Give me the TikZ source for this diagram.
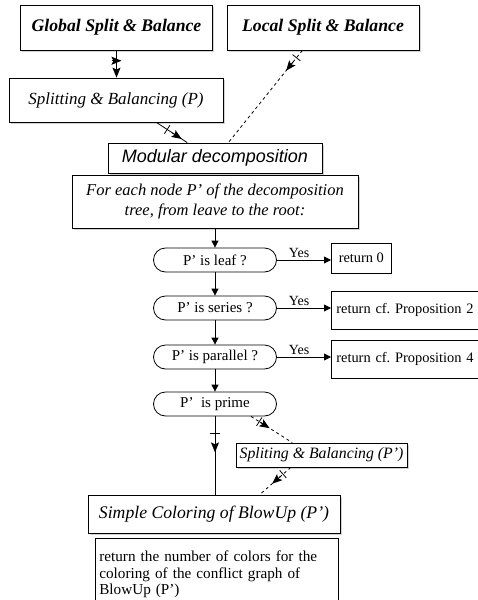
\documentclass[tikz,border=0pt]{standalone}
\usepackage{fontspec}
\setmainfont{Liberation Serif}
\setsansfont{Liberation Sans}
\usetikzlibrary{shapes.misc, arrows.meta, shadows, calc, decorations.markings}
\frenchspacing

\begin{document}
\begin{tikzpicture}[x=1pt, y=-1pt,
  box/.style={draw, line width=0.8pt, fill=white, inner sep=2pt, align=center,
    drop shadow={shadow xshift=1.5pt, shadow yshift=-1.5pt, opacity=0.35}},
  topbox/.style={box, minimum width=192pt, minimum height=45pt, font=\fontsize{17.7}{20}\selectfont\bfseries\itshape},
  plainbox/.style={draw, line width=0.7pt, fill=white, inner sep=5pt, font=\fontsize{14.4}{16}\selectfont},
  test/.style={draw, rounded rectangle, line width=0.8pt, minimum width=125pt, minimum height=24pt, inner sep=1pt, font=\fontsize{15}{17}\selectfont},
  flow/.style={-{Triangle[length=7pt, width=7pt]}, line width=0.8pt},
  link/.style={line width=0.8pt},
  barbend/.style={line width=1pt, -{Stealth[length=10pt, width=8pt, inset=2pt]}},
  ticked/.style={postaction={decorate, decoration={markings,
    mark=at position #1 with {\draw[solid, line width=0.8pt] (0pt,-5pt) -- (0pt,5pt);}}}},
  yes/.style={above, pos=0.41, inner sep=1.5pt, font=\fontsize{14}{16}\selectfont}
]
  \useasboundingbox (0,0) rectangle (478,600);

  % Entry points
  \node[topbox] (global) at (116.5, 27.5) {Global Split \& Balance};
  \node[topbox] (local) at (323, 27.5) {Local Split \& Balance};

  \node[box, minimum width=214pt, minimum height=44pt, font=\fontsize{17}{20}\selectfont\itshape] (splitP) at (116, 100) {Splitting \& Balancing (P)};

  \draw[link, barbend, ticked=0.38] (global.south) -- (global.south |- splitP.north);

  % Decomposition
  \node[box, minimum width=214pt, minimum height=30pt, font=\fontsize{18}{20}\selectfont\sffamily\itshape] (modular) at (215, 158) {Modular decomposition};
  \node[box, minimum width=286pt, minimum height=53pt, font=\fontsize{16.5}{19.5}\selectfont\itshape] (foreach) at (215, 201.5) {For each node P' of the decomposition\\tree, from leave to the root:};

  \draw[link, ticked=0.35] (splitP.-29.4) -- (modular.151);
  \coordinate (pm) at ($(splitP.-29.4)!0.82!(modular.151)$);
  \draw[barbend] ($(pm)!11pt!(splitP.-29.4)$) -- (pm);

  \draw[link, dashed, ticked=0.08] (local.228.4) -- (modular.49);
  \coordinate (lm) at ($(local.228.4)!0.22!(modular.49)$);
  \draw[barbend] ($(lm)!11pt!(local.228.4)$) -- (lm);

  % Tests on P'
  \node[test] (leaf) at (215, 260) {P’ is leaf ?};
  \node[test] (series) at (215, 308) {P’ is series ?};
  \node[test] (parallel) at (215, 357) {P’ is parallel ?};
  \node[test] (prime) at (215, 404) {P’ \ is prime};

  \draw[flow] (foreach.south) -- (leaf.north);
  \draw[flow] (leaf.south) -- (series.north);
  \draw[flow] (series.south) -- (parallel.north);
  \draw[flow] (parallel.south) -- (prime.north);

  % Results
  \node[plainbox, anchor=west, minimum width=60pt, minimum height=30pt] (ret0) at (331, 258) {return 0};
  \node[plainbox, anchor=west, text width=162pt, minimum height=38pt] (prop2) at (331, 310) {return cf. Proposition 2};
  \node[plainbox, anchor=west, text width=162pt, minimum height=38pt] (prop4) at (331, 359) {return cf. Proposition 4};

  \draw[flow] (leaf.east) -- (leaf.east -| ret0.west) node[yes] {Yes};
  \draw[flow] (series.east) -- (series.east -| prop2.west) node[yes] {Yes};
  \draw[flow] (parallel.east) -- (parallel.east -| prop4.west) node[yes] {Yes};

  % Prime case
  \node[box, minimum width=171pt, minimum height=24pt, font=\fontsize{15.8}{18}\selectfont\itshape] (splitPP) at (321.5, 455) {Spliting \& Balancing (P’)};
  \node[box, minimum width=252pt, minimum height=38pt, font=\fontsize{17.7}{20}\selectfont\itshape] (simple) at (214, 514) {Simple Coloring of BlowUp (P’)};
  \node[plainbox, anchor=north west, inner sep=4pt, text width=235pt, minimum height=72pt, align=left, font=\fontsize{15.2}{16.5}\selectfont] (retnum) at (95, 538)
    {return the number of colors for the\\coloring of the conflict graph of\\BlowUp (P’)\\[10pt]};

  \coordinate (primeend) at (prime.south |- simple.north);
  \draw[link, ticked=0.22] (prime.south) -- (primeend);
  \coordinate (ps) at ($(prime.south)!0.46!(primeend)$);
  \draw[barbend] ($(ps)!11pt!(prime.south)$) -- (ps);

  \draw[link, dashed, ticked=0.2] (prime.-19.8) -- (splitPP.157.9);
  \coordinate (pp) at ($(prime.-19.8)!0.45!(splitPP.157.9)$);
  \draw[barbend] ($(pp)!11pt!(prime.-19.8)$) -- (pp);

  \draw[link, dashed, ticked=0.25] (splitPP.202.8) -- (simple.23.8);
  \coordinate (sp) at ($(splitPP.202.8)!0.6!(simple.23.8)$);
  \draw[barbend] ($(sp)!11pt!(splitPP.202.8)$) -- (sp);
\end{tikzpicture}
\end{document}
